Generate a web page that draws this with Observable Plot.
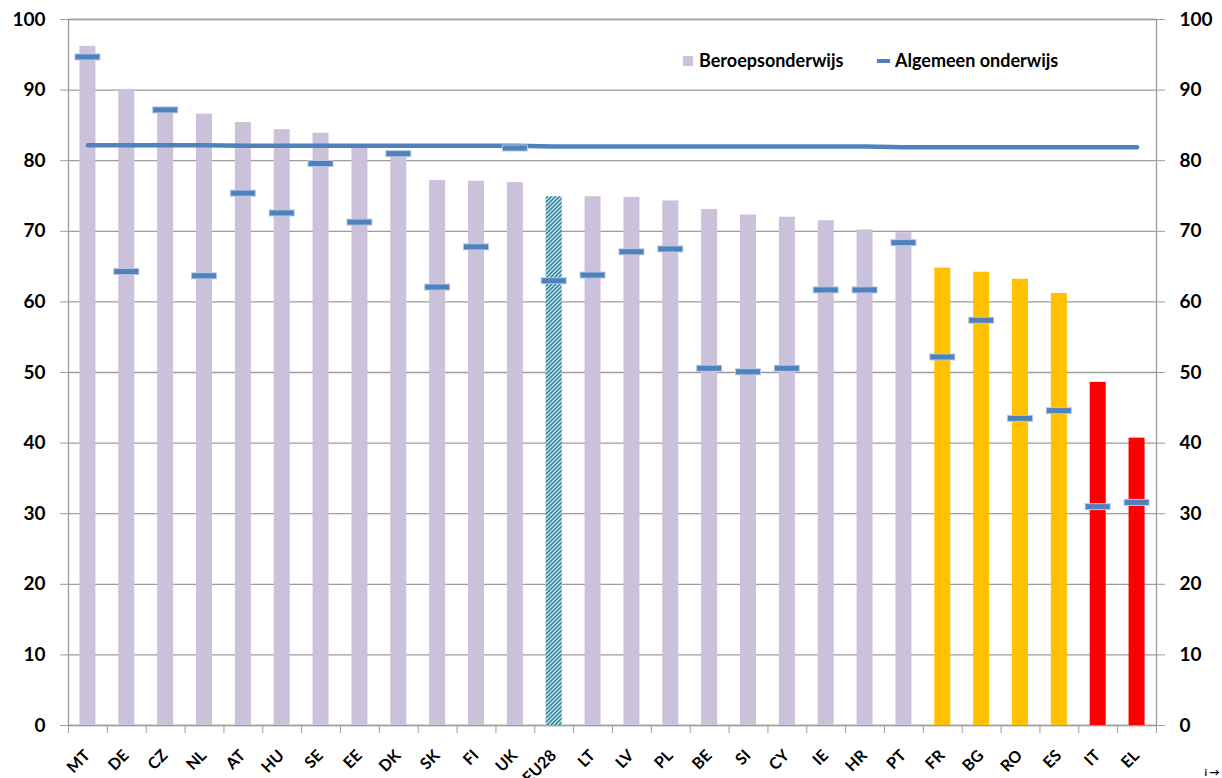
<!DOCTYPE html>
<html>
<head>
<meta charset="utf-8">
<script src="https://cdn.jsdelivr.net/npm/d3@7"></script>
<script src="https://cdn.jsdelivr.net/npm/@observablehq/plot@0.6"></script>
<style>
  body { margin: 0; background: #fff; overflow: hidden; }
  #wrap { position: relative; width: 1222px; height: 778px; font-family: Lato, sans-serif; overflow: hidden; }
  .leg { position: absolute; font: bold 18px Lato, sans-serif; color: #000; white-space: nowrap; }
  .sw { position: absolute; }
</style>
</head>
<body>
<div id="wrap"></div>
<script>
const categories = ["MT","DE","CZ","NL","AT","HU","SE","EE","DK","SK","FI","UK","EU28","LT","LV","PL","BE","SI","CY","IE","HR","PT","FR","BG","RO","ES","IT","EL"];
const beroeps = [96.2, 90.1, 87.0, 86.6, 85.4, 84.4, 83.9, 82.0, 81.2, 77.2, 77.1, 76.9, 74.9, 74.9, 74.8, 74.3, 73.1, 72.3, 72.0, 71.5, 70.2, 69.8, 64.8, 64.2, 63.2, 61.2, 48.6, 40.7];
const algemeen = [94.7, 64.3, 87.2, 63.7, 75.4, 72.6, 79.6, 71.3, 81.0, 62.1, 67.8, 81.8, 63.0, 63.8, 67.1, 67.5, 50.6, 50.1, 50.6, 61.7, 61.7, 68.4, 52.2, 57.4, 43.5, 44.6, 31.0, 31.6];
const benchmark = [82.2, 82.2, 82.2, 82.2, 82.1, 82.1, 82.1, 82.1, 82.1, 82.1, 82.1, 82.1, 82.0, 82.0, 82.0, 82.0, 82.0, 82.0, 82.0, 82.0, 82.0, 81.9, 81.9, 81.9, 81.9, 81.9, 81.9, 81.9];
const groups = ["base","base","base","base","base","base","base","base","base","base","base","base","eu","base","base","base","base","base","base","base","base","base","mid","mid","mid","mid","low","low"];
const yTicks = [0, 10, 20, 30, 40, 50, 60, 70, 80, 90, 100];
const legendLabels = ["Beroepsonderwijs", "Algemeen onderwijs"];

const rows = categories.map((c, i) => ({i, cat: c, beroeps: beroeps[i], algemeen: algemeen[i], bench: benchmark[i], group: groups[i]}));
const bounds = d3.range(categories.length + 1);

const W = 1222, H = 778;
const mL = 68, mR = 66, mT = 19, mB = 53;
const band = (W - mL - mR) / categories.length;
const barInset = (band - 16) / 2;
const markInset = (band - 24) / 2;
const grid = "#9d9d9d";
const blue = "#4F81BD";

const chart = Plot.plot({
  width: W, height: H,
  marginLeft: mL, marginRight: mR, marginTop: mT, marginBottom: mB,
  style: {fontFamily: "Lato, sans-serif", fontWeight: "bold", color: "#000", background: "#fff"},
  x: {domain: [0, categories.length], axis: null},
  y: {domain: [0, 100], axis: null},
  color: {domain: ["base", "mid", "low"], range: ["#CCC1DA", "#FFC000", "#FF0000"]},
  marks: [
    Plot.gridY(yTicks, {stroke: grid, strokeOpacity: 1, strokeWidth: 1.3}),
    Plot.frame({stroke: grid, strokeWidth: 1.3}),
    Plot.axisY({anchor: "left", ticks: yTicks, tickSize: 8, tickPadding: 15, fontSize: 19, stroke: grid, fill: "#000"}),
    Plot.axisY({anchor: "right", ticks: yTicks, tickSize: 8, tickPadding: 15, fontSize: 19, stroke: grid, fill: "#000"}),
    Plot.axisX({anchor: "bottom", ticks: bounds, tickSize: 8, tickFormat: () => "", stroke: grid}),
    Plot.rect(rows.filter(d => d.group !== "eu"), {x1: "i", x2: d => d.i + 1, y1: 0, y2: "beroeps", fill: "group", insetLeft: barInset, insetRight: barInset}),
    Plot.rect(rows.filter(d => d.group === "eu"), {x1: "i", x2: d => d.i + 1, y1: 0, y2: "beroeps", fill: "url(#hatch)", insetLeft: barInset, insetRight: barInset}),
    Plot.line(rows, {x: d => d.i + 0.5, y: "bench", stroke: blue, strokeWidth: 4.5}),
    Plot.ruleY(rows, {y: "algemeen", x1: "i", x2: d => d.i + 1, stroke: "#b4c8e2", strokeWidth: 7, insetLeft: markInset - 1, insetRight: markInset - 1}),
    Plot.ruleY(rows, {y: "algemeen", x1: "i", x2: d => d.i + 1, stroke: blue, strokeWidth: 5, insetLeft: markInset, insetRight: markInset}),
    Plot.text(rows, {x: d => d.i + 0.5, text: "cat", frameAnchor: "bottom", dy: 31, dx: 3, rotate: -45, textAnchor: "end", lineAnchor: "bottom", fontSize: 16, fill: "#000"})
  ]
});

// hatch pattern for EU28
const ns = "http://www.w3.org/2000/svg";
const defs = document.createElementNS(ns, "defs");
defs.innerHTML = `<pattern id="hatch" patternUnits="userSpaceOnUse" width="4" height="4">
  <rect width="4" height="4" fill="#cfe6ee"/>
  <path d="M-1,1 l2,-2 M0,4 l4,-4 M3,5 l2,-2" stroke="#2a7f9a" stroke-width="1.5"/>
</pattern>`;
chart.insertBefore(defs, chart.firstChild);

const wrap = document.getElementById("wrap");
wrap.appendChild(chart);

// legend overlay (inside plot area, top right)
const sq = document.createElement("div");
sq.className = "sw";
Object.assign(sq.style, {left: "683px", top: "56px", width: "10px", height: "10px", background: "#CCC1DA"});
wrap.appendChild(sq);
const t1 = document.createElement("div");
t1.className = "leg"; t1.textContent = legendLabels[0];
Object.assign(t1.style, {left: "699px", top: "49px"});
wrap.appendChild(t1);
const dash = document.createElement("div");
dash.className = "sw";
Object.assign(dash.style, {left: "877px", top: "59px", width: "13px", height: "4px", background: blue});
wrap.appendChild(dash);
const t2 = document.createElement("div");
t2.className = "leg"; t2.textContent = legendLabels[1];
Object.assign(t2.style, {left: "895px", top: "49px"});
wrap.appendChild(t2);
</script>
</body>
</html>
